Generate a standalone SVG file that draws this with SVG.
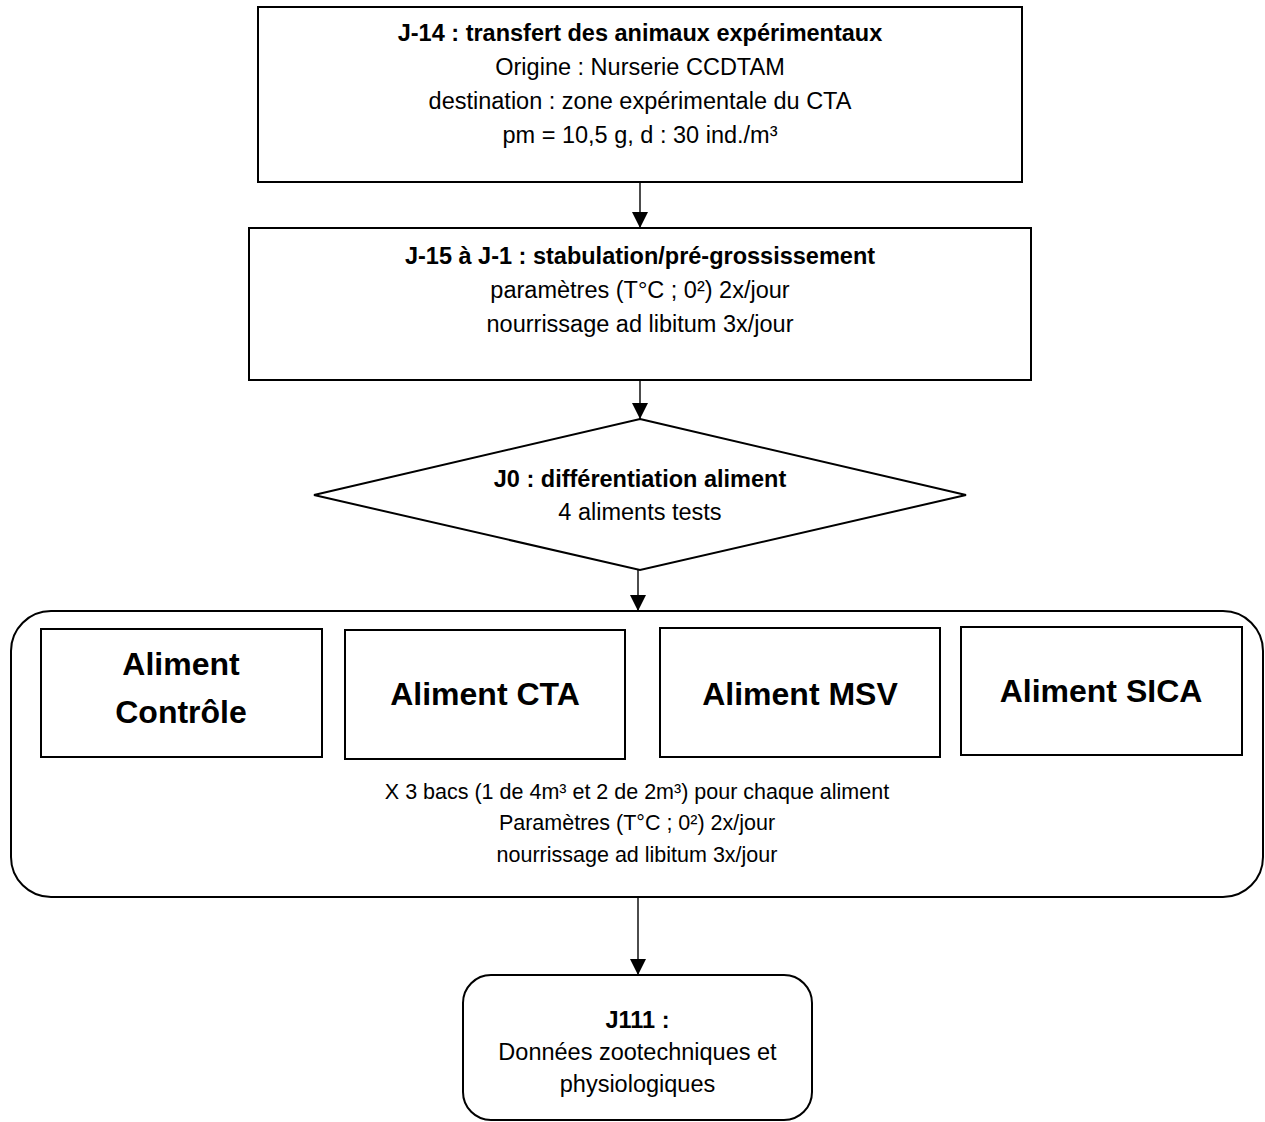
<svg xmlns="http://www.w3.org/2000/svg" width="1265" height="1122" viewBox="0 0 1265 1122">
  <defs>
    <marker id="arrow" viewBox="0 0 16 16" refX="16" refY="8" markerWidth="16" markerHeight="16" markerUnits="userSpaceOnUse" orient="auto">
      <path d="M0,0 L16,8 L0,16 Z" fill="#000"/>
    </marker>
    <style>
      .box { fill: #fff; stroke: #000; stroke-width: 2; }
      .conn { fill: none; stroke: #000; stroke-width: 1.4; marker-end: url(#arrow); }
      text { font-family: "Liberation Sans", Arial, sans-serif; fill: #000; text-anchor: middle; }
      .t { font-size: 23.5px; }
      .b { font-size: 23.5px; font-weight: bold; }
      .s { font-size: 21.5px; }
      .big { font-size: 32px; font-weight: bold; }
    </style>
  </defs>
  <rect width="1265" height="1122" fill="#fff"/>

  <g id="connectors">
    <line class="conn" x1="640" y1="182" x2="640" y2="228"/>
    <line class="conn" x1="640" y1="380" x2="640" y2="419"/>
    <line class="conn" x1="638" y1="570" x2="638" y2="611"/>
    <line class="conn" x1="638" y1="897" x2="638" y2="975"/>
  </g>

  <g id="n-transfert">
    <rect class="box" x="258" y="7" width="764" height="175"/>
    <text class="b" x="640" y="41">J-14 : transfert des animaux expérimentaux</text>
    <text class="t" x="640" y="75">Origine : Nurserie CCDTAM</text>
    <text class="t" x="640" y="109">destination : zone expérimentale du CTA</text>
    <text class="t" x="640" y="143">pm = 10,5 g, d : 30 ind./m³</text>
  </g>

  <g id="n-stabulation">
    <rect class="box" x="249" y="228" width="782" height="152"/>
    <text class="b" x="640" y="264">J-15 à J-1 : stabulation/pré-grossissement</text>
    <text class="t" x="640" y="298">paramètres (T°C ; 0²) 2x/jour</text>
    <text class="t" x="640" y="332">nourrissage ad libitum 3x/jour</text>
  </g>

  <g id="n-differentiation">
    <polygon class="box" points="640,419 966,495 640,570 314,495"/>
    <text class="b" x="640" y="487">J0 : différentiation aliment</text>
    <text class="t" x="640" y="520">4 aliments tests</text>
  </g>

  <g id="n-groupe">
    <rect class="box" x="11" y="611" width="1252" height="286" rx="40" ry="40"/>
    <text class="s" x="637" y="799">X 3 bacs (1 de 4m³ et 2 de 2m³) pour chaque aliment</text>
    <text class="s" x="637" y="830">Paramètres (T°C ; 0²) 2x/jour</text>
    <text class="s" x="637" y="862">nourrissage ad libitum 3x/jour</text>
  </g>

  <g id="n-controle">
    <rect class="box" x="41" y="629" width="281" height="128"/>
    <text class="big" x="181" y="675">Aliment</text>
    <text class="big" x="181" y="723">Contrôle</text>
  </g>

  <g id="n-cta">
    <rect class="box" x="345" y="630" width="280" height="129"/>
    <text class="big" x="485" y="705">Aliment CTA</text>
  </g>

  <g id="n-msv">
    <rect class="box" x="660" y="628" width="280" height="129"/>
    <text class="big" x="800" y="705">Aliment MSV</text>
  </g>

  <g id="n-sica">
    <rect class="box" x="961" y="627" width="281" height="128"/>
    <text class="big" x="1101" y="702">Aliment SICA</text>
  </g>

  <g id="n-j111">
    <rect class="box" x="463" y="975" width="349" height="145" rx="28" ry="28"/>
    <text class="b" x="637.5" y="1028">J111 :</text>
    <text class="t" x="637.5" y="1060">Données zootechniques et</text>
    <text class="t" x="637.5" y="1092">physiologiques</text>
  </g>
</svg>
